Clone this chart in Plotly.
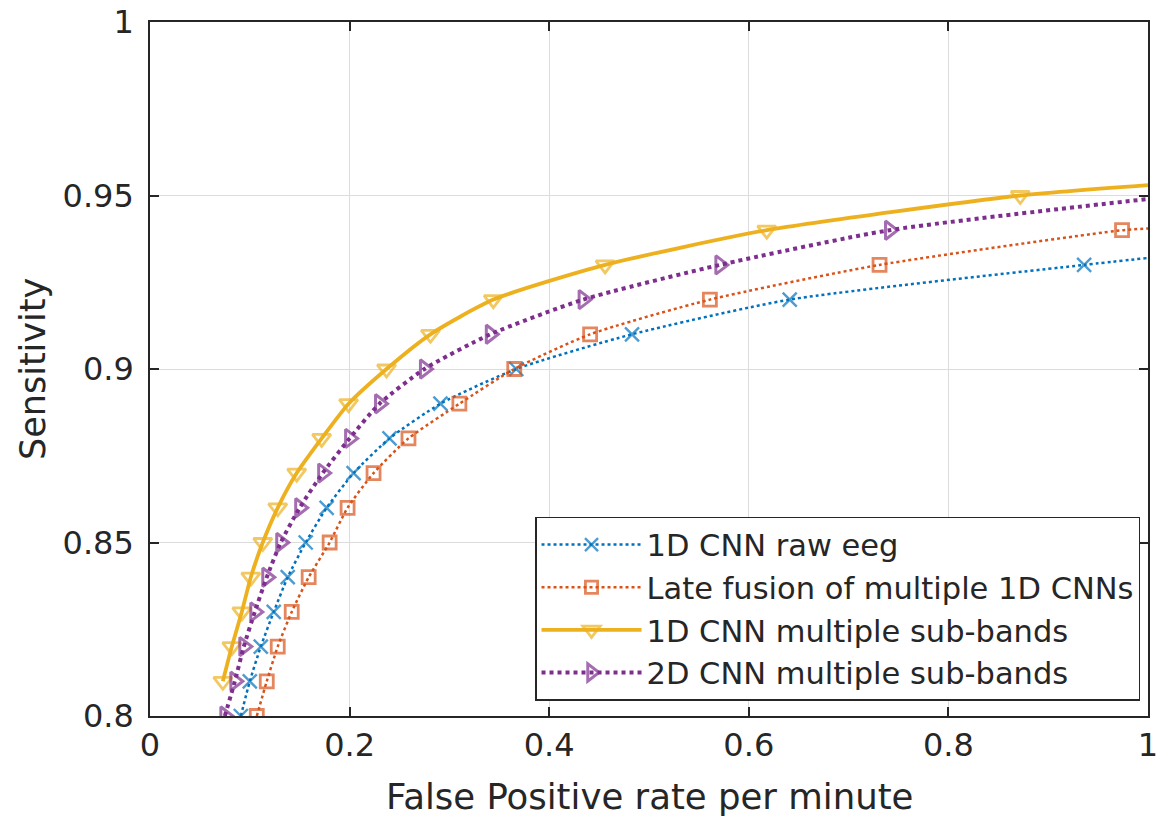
import plotly.graph_objects as go

# Data
blue_x = [0.091, 0.100, 0.111, 0.124, 0.138, 0.156, 0.177, 0.204, 0.240, 0.291, 0.367, 0.483, 0.641, 0.936, 1.0]
blue_y = [0.80, 0.81, 0.82, 0.83, 0.84, 0.85, 0.86, 0.87, 0.88, 0.89, 0.90, 0.91, 0.92, 0.93, 0.932]

orange_x = [0.107, 0.117, 0.128, 0.142, 0.159, 0.180, 0.198, 0.224, 0.259, 0.310, 0.365, 0.441, 0.561, 0.731, 0.974, 1.0]
orange_y = [0.80, 0.81, 0.82, 0.83, 0.84, 0.85, 0.86, 0.87, 0.88, 0.89, 0.90, 0.91, 0.92, 0.93, 0.94, 0.9405]

yellow_x = [0.073, 0.082, 0.092, 0.101, 0.113, 0.128, 0.147, 0.172, 0.199, 0.237, 0.281, 0.344, 0.456, 0.618, 0.872, 1.0]
yellow_y = [0.81, 0.82, 0.83, 0.84, 0.85, 0.86, 0.87, 0.88, 0.89, 0.90, 0.91, 0.92, 0.93, 0.94, 0.95, 0.953]

purple_x = [0.075, 0.085, 0.094, 0.105, 0.117, 0.131, 0.150, 0.173, 0.200, 0.230, 0.275, 0.341, 0.434, 0.571, 0.741, 1.0]
purple_y = [0.80, 0.81, 0.82, 0.83, 0.84, 0.85, 0.86, 0.87, 0.88, 0.89, 0.90, 0.91, 0.92, 0.93, 0.94, 0.949]

names = ["1D CNN raw eeg", "Late fusion of multiple 1D CNNs",
         "1D CNN multiple sub-bands", "2D CNN multiple sub-bands"]

x_ticks = [0, 0.2, 0.4, 0.6, 0.8, 1]
x_labels = ["0", "0.2", "0.4", "0.6", "0.8", "1"]
y_ticks = [0.8, 0.85, 0.9, 0.95, 1]
y_labels = ["0.8", "0.85", "0.9", "0.95", "1"]

x_title = "False Positive rate per minute"
y_title = "Sensitivity"

FONT = "DejaVu Sans"
TXT = "#262626"

def sizes(n, s):
    return [s] * (n - 1) + [0]

fig = go.Figure()
fig.add_trace(go.Scatter(
    x=blue_x, y=blue_y, name=names[0], mode="lines+markers",
    line=dict(color="#0072BD", width=2.5, dash="dot", shape="spline", smoothing=0.6),
    marker=dict(symbol="x-thin-open", size=sizes(len(blue_x), 14), color="#0072BD",
                line=dict(color="#0072BD", width=2.4))))
fig.add_trace(go.Scatter(
    x=orange_x, y=orange_y, name=names[1], mode="lines+markers",
    line=dict(color="#D95319", width=2.5, dash="dot", shape="spline", smoothing=0.6),
    marker=dict(symbol="square-open", size=sizes(len(orange_x), 13), color="#D95319",
                line=dict(color="#D95319", width=2.8))))
fig.add_trace(go.Scatter(
    x=yellow_x, y=yellow_y, name=names[2], mode="lines+markers",
    line=dict(color="#EDB120", width=3.8, shape="spline", smoothing=0.6),
    marker=dict(symbol="triangle-down-open", size=sizes(len(yellow_x), 16), color="#EDB120",
                line=dict(color="#EDB120", width=2.8))))
fig.add_trace(go.Scatter(
    x=purple_x, y=purple_y, name=names[3], mode="lines+markers",
    line=dict(color="#7E2F8E", width=4, dash="dot", shape="spline", smoothing=0.6),
    marker=dict(symbol="triangle-right-open", size=sizes(len(purple_x), 16), color="#7E2F8E",
                line=dict(color="#7E2F8E", width=3))))

axis_common = dict(
    showline=True, linecolor=TXT, linewidth=1.6, mirror="ticks",
    ticks="inside", ticklen=9, tickcolor=TXT, tickwidth=1.6,
    showgrid=True, gridcolor="#DCDCDC", gridwidth=1.3, zeroline=False,
    tickfont=dict(family=FONT, size=32, color=TXT),
    automargin=False,
)

fig.update_xaxes(range=[0, 1], tickvals=x_ticks, ticktext=x_labels, **axis_common)
fig.update_yaxes(range=[0.8, 1], tickvals=y_ticks, ticktext=y_labels,
                 ticklabelstandoff=8, **axis_common)

fig.add_annotation(text=x_title, xref="paper", yref="paper", x=0.5, y=0,
                   yshift=-80, xanchor="center", yanchor="middle", showarrow=False,
                   font=dict(family=FONT, size=35.5, color=TXT))
fig.add_annotation(text=y_title, xref="paper", yref="paper", x=0, y=0.5,
                   xshift=-117, xanchor="center", yanchor="middle", textangle=-90,
                   showarrow=False, font=dict(family=FONT, size=35, color=TXT))

fig.update_layout(
    width=1170, height=823,
    margin=dict(l=150, r=22, t=22, b=107, autoexpand=False),
    plot_bgcolor="white", paper_bgcolor="white",
    font=dict(family=FONT, color=TXT),
    legend=dict(x=0.992, y=0.022, xanchor="right", yanchor="bottom",
                bgcolor="white", bordercolor=TXT, borderwidth=1.5,
                font=dict(family=FONT, size=30.5, color=TXT),
                itemwidth=100),
    showlegend=True,
)

fig.write_html("out.html", config={"displayModeBar": False},
               post_script="document.body.style.margin='0';document.body.style.padding='0';")
